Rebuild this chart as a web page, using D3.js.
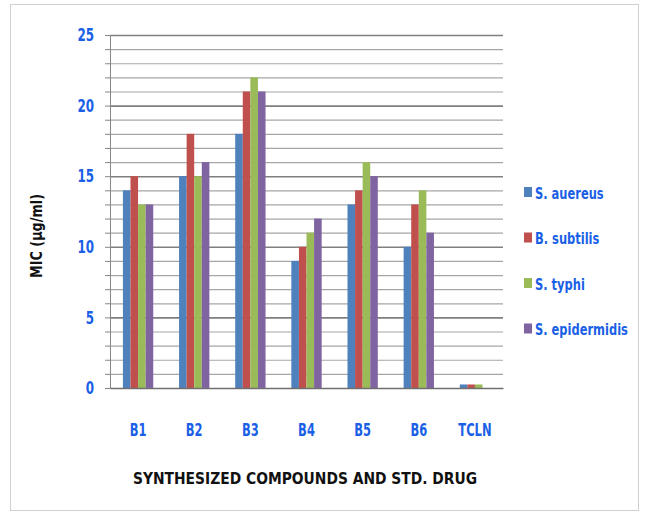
<!DOCTYPE html>
<html>
<head>
<meta charset="utf-8">
<script src="https://cdn.jsdelivr.net/npm/d3@7"></script>
<style>
  body { margin: 0; background: #fff; }
  text { font-family: "Liberation Sans Narrow", "DejaVu Sans Condensed", "Roboto", sans-serif; font-weight: bold; }
</style>
</head>
<body>
<svg id="chart" width="648" height="516"></svg>
<script>
// data
const categories = ['B1', 'B2', 'B3', 'B4', 'B5', 'B6', 'TCLN'];
const seriesNames = ['S. auereus', 'B. subtilis', 'S. typhi', 'S. epidermidis'];
const aureus      = [14, 15, 18, 9, 13, 10, 0.25];
const subtilis    = [15, 18, 21, 10, 14, 13, 0.25];
const typhi       = [13, 15, 22, 11, 16, 14, 0.25];
const epidermidis = [13, 16, 21, 12, 15, 11, 0];
const yTicks = [0, 5, 10, 15, 20, 25];

const colors = ['#4F81BD', '#C0504D', '#9BBB59', '#8064A2'];
const values = [aureus, subtilis, typhi, epidermidis];

const svg = d3.select('#chart');

// chart frame
svg.append('rect')
    .attr('x', 10.5).attr('y', 4.5)
    .attr('width', 628).attr('height', 506)
    .attr('fill', 'none').attr('stroke', '#d0d0d0');

const margin = {top: 35, left: 110, right: 145, bottom: 128};
const chartWidth = 648 - margin.left - margin.right;
const chartHeight = 516 - margin.top - margin.bottom;

const g = svg.append('g')
    .attr('transform', `translate(${margin.left},${margin.top})`);

const xScale = d3.scaleBand()
    .domain(categories)
    .range([0, chartWidth]);

const innerScale = d3.scaleBand()
    .domain(d3.range(seriesNames.length))
    .range([0, xScale.bandwidth() * 0.54]);

const yScale = d3.scaleLinear()
    .domain([0, 25])
    .range([chartHeight, 0]);

// grid lines, one per unit
g.append('g')
  .selectAll('line')
  .data(d3.range(1, 26))
  .join('line')
    .attr('x1', 0).attr('x2', chartWidth)
    .attr('y1', d => yScale(d) + 0.5).attr('y2', d => yScale(d) + 0.5)
    .attr('stroke', d => d % 5 === 0 ? '#7f7f7f' : '#a6a6a6')
    .attr('stroke-width', d => d % 5 === 0 ? 1.6 : 1.2);

// y axis with minor ticks
const yAxis = g.append('g')
    .call(d3.axisLeft(yScale).tickValues(d3.range(0, 26)).tickSize(5).tickFormat(''));
yAxis.select('.domain').attr('stroke', '#868686');
yAxis.selectAll('.tick line').attr('stroke', '#868686');

// condensed blue tick labels
g.append('g')
  .selectAll('text')
  .data(yTicks)
  .join('text')
    .attr('transform', d => `translate(-16,${yScale(d)}) scale(0.78,1.05)`)
    .attr('dy', '0.35em')
    .attr('text-anchor', 'end')
    .attr('fill', '#1A5FE6')
    .style('font-size', '17px')
    .text(d => d);

// bars
const groups = g.append('g')
  .selectAll('g')
  .data(categories)
  .join('g')
    .attr('transform', d => `translate(${xScale(d) + xScale.bandwidth() * 0.23},0)`);

groups.selectAll('rect')
  .data((d, i) => values.map((s, k) => ({k, v: s[i]})))
  .join('rect')
    .attr('x', d => innerScale(d.k))
    .attr('width', innerScale.bandwidth())
    .attr('y', d => yScale(d.v))
    .attr('height', d => chartHeight - yScale(d.v))
    .attr('fill', d => colors[d.k]);

// x axis
const xAxis = g.append('g')
    .attr('transform', `translate(0,${chartHeight})`)
    .call(d3.axisBottom(xScale).tickSize(0).tickPadding(34));
xAxis.select('.domain').attr('stroke', '#6f6f6f').attr('stroke-width', 1.5);
xAxis.selectAll('text')
    .attr('fill', '#1A5FE6')
    .attr('transform', 'scale(0.8,1.05)')
    .style('font-size', '16px')
    .style('font-family', '"Liberation Sans Narrow", "DejaVu Sans Condensed", sans-serif');
xAxis.selectAll('.tick text')
    .each(function() {
      const t = d3.select(this.parentNode).attr('transform');
    });

// axis titles
svg.append('text')
    .attr('x', 305).attr('y', 484)
    .attr('text-anchor', 'middle')
    .attr('textLength', 344).attr('lengthAdjust', 'spacingAndGlyphs')
    .attr('fill', '#111')
    .style('font-size', '16px')
    .text('SYNTHESIZED COMPOUNDS AND STD. DRUG');

svg.append('text')
    .attr('transform', 'translate(42,236) rotate(-90)')
    .attr('text-anchor', 'middle')
    .attr('textLength', 84).attr('lengthAdjust', 'spacingAndGlyphs')
    .attr('fill', '#111')
    .style('font-size', '15px')
    .text('MIC (µg/ml)');

// legend
const legend = svg.append('g')
    .attr('transform', 'translate(524,193)');
const item = legend.selectAll('g')
  .data(seriesNames)
  .join('g')
    .attr('transform', (d, i) => `translate(0,${i * 45.5})`);
item.append('rect')
    .attr('x', 0).attr('y', -6)
    .attr('width', 8).attr('height', 10)
    .attr('fill', (d, i) => colors[i]);
item.append('text')
    .attr('transform', 'translate(11,0) scale(0.85,1.05)')
    .attr('dy', '0.35em')
    .attr('fill', '#1A5FE6')
    .style('font-size', '15px')
    .text(d => d);
</script>
</body>
</html>
